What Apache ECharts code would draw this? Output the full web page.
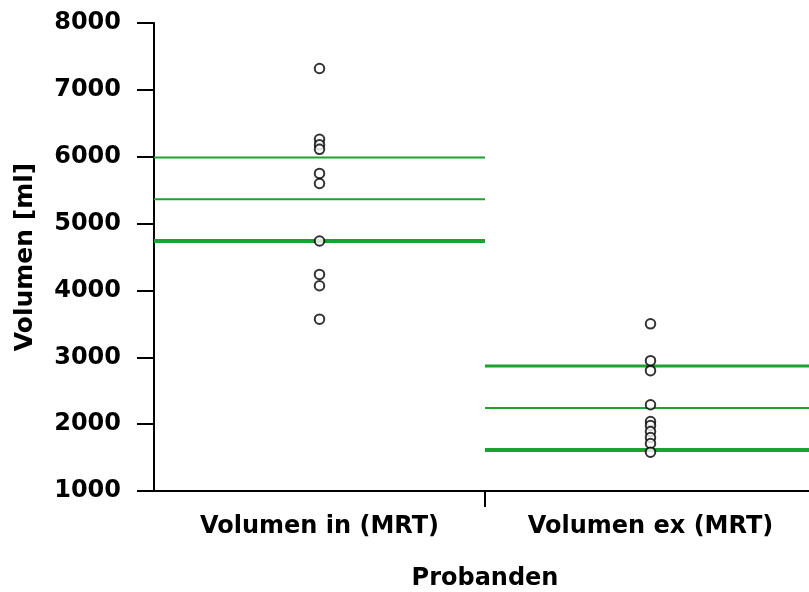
<!DOCTYPE html>
<html>
<head>
<meta charset="utf-8">
<script src="https://cdn.jsdelivr.net/npm/echarts@6/dist/echarts.min.js"></script>
<style>html,body{margin:0;padding:0;background:#fff}#c{width:809px;height:592px}</style>
</head>
<body>
<div id="c"></div>
<script>
var categories = ['Volumen in (MRT)', 'Volumen ex (MRT)'];
var yTicks = [1000, 8000, 1000]; // min, max, interval
var volIn = [7320, 6260, 6180, 6110, 5750, 5600, 4740, 4240, 4070, 3570];
var volEx = [3500, 2950, 2800, 2290, 2040, 1980, 1890, 1800, 1710, 1580];
var linesIn = [5990, 5365, 4740];
var linesEx = [2870, 2240, 1615];

var FONT = 'DejaVu Sans';
var GREEN = '#1ca231';
var lineWidthsIn = [2, 2, 4];
var lineWidthsEx = [3, 2, 4];

var series = [
  {
    type: 'scatter', xAxisIndex: 0, yAxisIndex: 0,
    data: volIn.map(function (v) { return [categories[0], v]; }),
    symbol: 'emptyCircle', symbolSize: 9.5,
    itemStyle: { color: '#000', borderColor: '#000', borderWidth: 2.3 }, z: 5
  },
  {
    type: 'scatter', xAxisIndex: 0, yAxisIndex: 0,
    data: volEx.map(function (v) { return [categories[1], v]; }),
    symbol: 'emptyCircle', symbolSize: 9.5,
    itemStyle: { color: '#000', borderColor: '#000', borderWidth: 2.3 }, z: 5
  }
];
linesIn.forEach(function (v, i) {
  series.push({
    type: 'line', xAxisIndex: 1, yAxisIndex: 0, symbol: 'none', silent: true,
    data: [[0, v], [1, v]],
    lineStyle: { color: GREEN, width: lineWidthsIn[i] }, z: 3
  });
});
linesEx.forEach(function (v, i) {
  series.push({
    type: 'line', xAxisIndex: 1, yAxisIndex: 0, symbol: 'none', silent: true,
    data: [[1, v], [2, v]],
    lineStyle: { color: GREEN, width: lineWidthsEx[i] }, z: 3
  });
});

var chart = echarts.init(document.getElementById('c'), null, { renderer: 'canvas' });
chart.setOption({
  animation: false,
  backgroundColor: '#fff',
  grid: { left: 154, width: 662, top: 23, height: 468, containLabel: false, outerBoundsMode: 'none' },
  xAxis: [
    {
      type: 'category', data: categories, boundaryGap: true, position: 'bottom',
      name: 'Probanden', nameLocation: 'middle', nameGap: 76,
      nameTextStyle: { fontFamily: FONT, fontWeight: 'bold', fontSize: 24, color: '#000' },
      axisLine: { show: true, lineStyle: { color: '#000', width: 2 } },
      axisTick: { show: false },
      axisLabel: { fontFamily: FONT, fontWeight: 'bold', fontSize: 24, color: '#000', margin: 24 },
      splitLine: { show: false }
    },
    {
      type: 'value', min: 0, max: 2, show: false, splitLine: { show: false }
    },
    {
      type: 'category', data: ['', '', ''], boundaryGap: false, position: 'bottom',
      axisLine: { show: false },
      axisLabel: { show: false },
      axisTick: { show: true, length: 16, lineStyle: { color: '#000', width: 2 },
        interval: function (idx) { return idx === 1; } },
      splitLine: { show: false }
    }
  ],
  yAxis: {
    type: 'value', min: yTicks[0], max: yTicks[1], interval: yTicks[2],
    name: 'Volumen [ml]', nameLocation: 'middle', nameGap: 116, nameRotate: 90,
    nameTextStyle: { fontFamily: FONT, fontWeight: 'bold', fontSize: 25, color: '#000' },
    axisLine: { show: true, lineStyle: { color: '#000', width: 2 } },
    axisTick: { show: true, length: 17, lineStyle: { color: '#000', width: 2 } },
    axisLabel: { fontFamily: FONT, fontWeight: 'bold', fontSize: 24, color: '#000', margin: 33,
      formatter: function (v) { return String(v); } },
    splitLine: { show: false }
  },
  series: series
});
</script>
</body>
</html>
